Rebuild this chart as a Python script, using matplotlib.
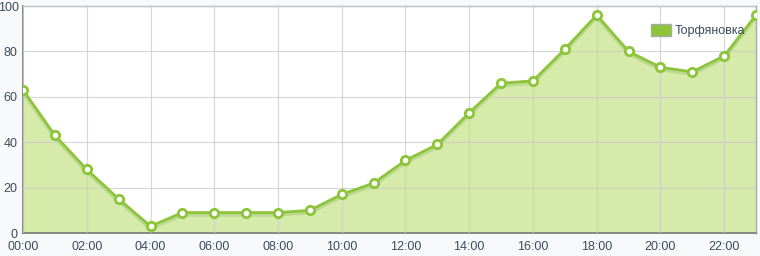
import matplotlib.pyplot as plt
import matplotlib.transforms as mtransforms
import numpy as np
from matplotlib.patches import Patch

hours = np.arange(24)
values = [63, 43, 28, 15, 3, 9, 9, 9, 9, 10, 17, 22, 32, 39, 53, 66, 67, 81, 96, 80, 73, 71, 78, 96]
tick_hours = list(range(0, 24, 2))
tick_labels = ["%02d:00" % h for h in tick_hours]
y_ticks = list(range(0, 101, 20))
series_name = "Торфяновка"

plt.rcParams['font.family'] = ['Liberation Sans', 'DejaVu Sans']

fig = plt.figure(figsize=(7.6, 2.56), dpi=100, facecolor='#f8f9fb')
ax = fig.add_axes([0.0303, 0.0898, 0.9645, 0.8868])
ax.set_facecolor('white')

line_c = '#8cc43a'
fill_c = '#d6eaaa'
text_c = '#3d4b5c'

ax.fill_between(hours, values, 0, color=fill_c, zorder=2)
# soft shadow under the line
ax.plot(hours, np.array(values) - 1.0, color='#bcd893', lw=2.5, zorder=3, solid_joinstyle='round')
ax.plot(hours, values, color=line_c, lw=2, zorder=4, solid_joinstyle='round',
        marker='o', ms=6, mfc='white', mec=line_c, mew=2)

ax.set_xlim(0, 23)
ax.set_ylim(0, 100)
ax.set_xticks(tick_hours)
ax.set_xticklabels(tick_labels)
ax.set_yticks(y_ticks)
# top label drawn by hand, a bit lower so it is not clipped
ax.set_yticklabels([str(v) for v in y_ticks[:-1]] + [''])
off = mtransforms.ScaledTranslation(-4 / 100, -2 / 100, fig.dpi_scale_trans)
ax.text(0, y_ticks[-1], str(y_ticks[-1]), transform=ax.get_yaxis_transform() + off,
        ha='right', va='center', fontsize=9, color=text_c)

ax.grid(True, color='#cccccc', lw=0.8, zorder=5, alpha=0.8)
ax.set_axisbelow(False)
ax.tick_params(length=0, labelsize=9, colors=text_c)
ax.tick_params(axis='x', pad=6)
ax.tick_params(axis='y', pad=4)

for s in ['top', 'right']:
    ax.spines[s].set_color('#aaaaaa')
    ax.spines[s].set_linewidth(1)
for s in ['left', 'bottom']:
    ax.spines[s].set_color('#777777')
    ax.spines[s].set_linewidth(1.2)

ax.legend(handles=[Patch(facecolor=line_c, edgecolor='#aaaaaa', label=series_name)],
          loc='upper right', bbox_to_anchor=(1.0, 0.97), frameon=False,
          fontsize=9, handlelength=1.6, handleheight=1.1, handletextpad=0.3,
          labelcolor=text_c)

fig.savefig('out.png', dpi=100, facecolor=fig.get_facecolor())
